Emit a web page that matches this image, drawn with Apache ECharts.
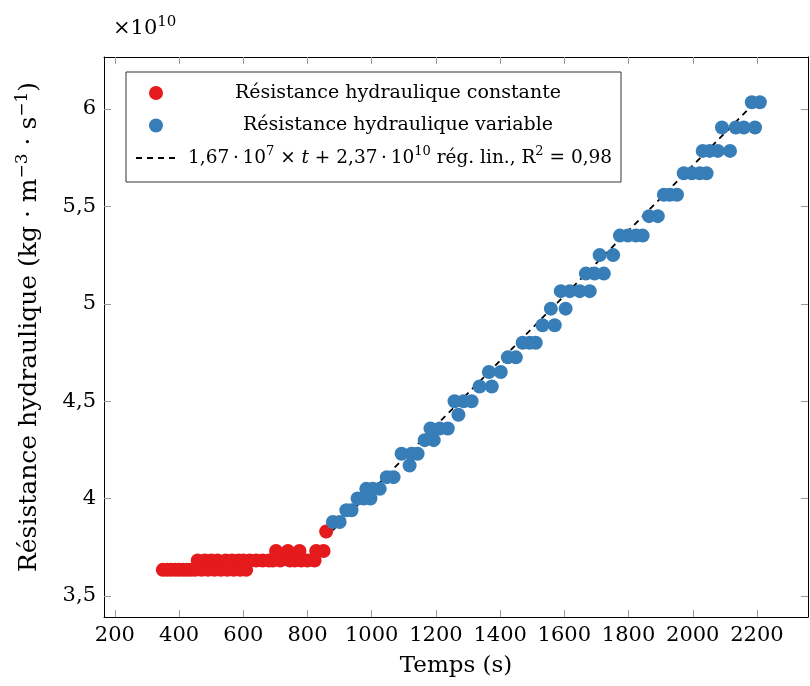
<!DOCTYPE html>
<html>
<head>
<meta charset="utf-8">
<script src="https://cdn.jsdelivr.net/npm/echarts@6/dist/echarts.min.js"></script>
<style>
  html, body { margin: 0; padding: 0; background: #fff; }
  #chart { width: 810px; height: 686px; }
</style>
</head>
<body>
<div id="chart"></div>
<script>
'use strict';

// temps (s) / résistance (x 10^10) -- partie constante
var constTime = [349, 362, 375, 388, 400, 413, 425, 437, 450, 458, 470, 480, 490, 500, 510, 520,
    530, 545, 550, 565, 570, 585, 590, 600, 609, 620, 640, 660, 680, 692, 702, 715, 739, 745,
    760, 775, 780, 800, 822, 827, 850, 858];
var constRes = [3.634, 3.634, 3.634, 3.634, 3.634, 3.634, 3.634, 3.634, 3.634, 3.682, 3.634, 3.682,
    3.634, 3.682, 3.634, 3.682, 3.634, 3.682, 3.634, 3.682, 3.634, 3.682, 3.634, 3.682, 3.634,
    3.682, 3.682, 3.682, 3.682, 3.682, 3.731, 3.682, 3.731, 3.682, 3.682, 3.731, 3.682, 3.682,
    3.682, 3.731, 3.731, 3.831];

// partie variable
var varTime = [879, 900, 921, 937, 956, 975, 983, 996, 1003, 1025, 1047, 1068, 1093, 1118, 1124,
    1143, 1165, 1183, 1193, 1212, 1237, 1258, 1270, 1286, 1311, 1336, 1365, 1374, 1402, 1424,
    1449, 1470, 1492, 1511, 1532, 1558, 1570, 1589, 1604, 1617, 1648, 1667, 1679, 1694, 1710,
    1723, 1752, 1773, 1798, 1823, 1844, 1864, 1891, 1910, 1929, 1951, 1972, 1997, 2022, 2031,
    2043, 2053, 2078, 2091, 2116, 2134, 2159, 2184, 2194, 2209];
var varRes = [3.88, 3.88, 3.94, 3.94, 4.00, 4.00, 4.05, 4.00, 4.05, 4.05, 4.11, 4.11, 4.23, 4.17,
    4.23, 4.23, 4.30, 4.36, 4.30, 4.36, 4.36, 4.50, 4.43, 4.50, 4.50, 4.575, 4.65, 4.575, 4.65,
    4.725, 4.725, 4.80, 4.80, 4.80, 4.89, 4.975, 4.89, 5.065, 4.975, 5.065, 5.065, 5.155, 5.065,
    5.155, 5.25, 5.155, 5.25, 5.35, 5.35, 5.35, 5.35, 5.45, 5.45, 5.56, 5.56, 5.56, 5.67, 5.67,
    5.67, 5.785, 5.67, 5.785, 5.785, 5.905, 5.785, 5.905, 5.905, 6.035, 5.905, 6.035];

// régression linéaire (extrémités lues)
var regTime = [855, 2205];
var regRes = [3.798, 6.052];

var xTicks = [200, 400, 600, 800, 1000, 1200, 1400, 1600, 1800, 2000, 2200];
var xTickLabels = ['200', '400', '600', '800', '1000', '1200', '1400', '1600', '1800', '2000', '2200'];
var yTicks = [3.5, 4, 4.5, 5, 5.5, 6];
var yTickLabels = ['3,5', '4', '4,5', '5', '5,5', '6'];
var xRange = [166, 2359];
var yRange = [3.392, 6.267];

var NAME_CONST = 'Résistance hydraulique constante';
var NAME_VAR = 'Résistance hydraulique variable';
var NAME_REG = 'régression';

var FONT = 'DejaVu Serif';
var TICK_COLOR = '#9a9a9a';

function pairs(xs, ys) {
    var arr = [];
    for (var i = 0; i < xs.length; i++) {
        arr.push([xs[i], ys[i]]);
    }
    return arr;
}

function axisBase(position, showLabel, ticks, labels) {
    var horiz = position === 'bottom' || position === 'top';
    return {
        type: 'value',
        position: position,
        min: horiz ? xRange[0] : yRange[0],
        max: horiz ? xRange[1] : yRange[1],
        axisLine: { show: true, onZero: false, lineStyle: { color: '#000', width: 1 } },
        axisTick: { show: true, inside: true, length: 7, customValues: ticks,
            lineStyle: { color: TICK_COLOR, width: 1 } },
        axisLabel: {
            show: showLabel,
            customValues: ticks,
            fontFamily: FONT,
            fontSize: 21,
            color: '#000',
            margin: 8,
            formatter: function (v) {
                for (var i = 0; i < ticks.length; i++) {
                    if (Math.abs(ticks[i] - v) < 1e-6) return labels[i];
                }
                return '';
            }
        },
        splitLine: { show: false }
    };
}

var chart = echarts.init(document.getElementById('chart'), null, { renderer: 'canvas' });

var xBottom = axisBase('bottom', true, xTicks, xTickLabels);
xBottom.name = 'Temps (s)';
xBottom.nameLocation = 'middle';
xBottom.nameGap = 38;
xBottom.nameTextStyle = { fontFamily: FONT, fontSize: 23, color: '#000' };

var yLeft = axisBase('left', true, yTicks, yTickLabels);
yLeft.name = 'Résistance hydraulique (kg · m{s|−3} · s{s|−1})';
yLeft.nameLocation = 'middle';
yLeft.nameRotate = 90;
yLeft.nameGap = 60;
yLeft.nameTextStyle = {
    fontFamily: FONT, fontSize: 25, color: '#000', lineHeight: 30,
    padding: [0, 0, 0, 20],
    rich: { s: { fontFamily: FONT, fontSize: 17, lineHeight: 16, verticalAlign: 'top', color: '#000' } }
};

// petite espace autour des points
var TH = '\u2009';

var option = {
    animation: false,
    backgroundColor: '#fff',
    grid: { left: 104, right: 2, top: 57, bottom: 69, containLabel: false },
    xAxis: [xBottom, axisBase('top', false, xTicks, xTickLabels)],
    yAxis: [yLeft, axisBase('right', false, yTicks, yTickLabels)],
    legend: {
        orient: 'vertical',
        left: 126,
        top: 72,
        padding: [8, 6, 11, 9],
        itemWidth: 40,
        itemHeight: 14,
        itemGap: 6.5,
        backgroundColor: '#fff',
        borderColor: '#333',
        borderWidth: 1,
        selectedMode: false,
        data: [
            { name: NAME_CONST, icon: 'circle' },
            { name: NAME_VAR, icon: 'circle' },
            { name: NAME_REG, itemStyle: { color: 'rgba(0,0,0,0)', borderWidth: 0 } }
        ],
        formatter: function (name) {
            if (name === NAME_REG) {
                return '{f|1,67' + TH + '·' + TH + '10}{s|7}{n| × }{i|t}{n| + 2,37' + TH + '·' + TH +
                    '10}{s|10}{n| rég. lin., R}{s|2}{n| = 0,98}';
            }
            return '{c|' + name + '}';
        },
        textStyle: {
            fontFamily: FONT, fontSize: 19, color: '#000', lineHeight: 26,
            rich: {
                c: { fontFamily: FONT, fontSize: 19, lineHeight: 26, width: 434, align: 'center', color: '#000' },
                f: { fontFamily: FONT, fontSize: 18.5, lineHeight: 26, padding: [0, 0, 0, 7], color: '#000' },
                n: { fontFamily: FONT, fontSize: 18.5, lineHeight: 26, color: '#000' },
                i: { fontFamily: FONT, fontSize: 18.5, lineHeight: 26, fontStyle: 'italic', color: '#000' },
                s: { fontFamily: FONT, fontSize: 13, lineHeight: 14, verticalAlign: 'top', color: '#000' }
            }
        }
    },
    graphic: [{
        type: 'text',
        left: 113,
        top: 15,
        style: {
            text: '{m|×10}{s|10}',
            rich: {
                m: { fontFamily: FONT, fontSize: 21, lineHeight: 28, fill: '#000' },
                s: { fontFamily: FONT, fontSize: 15, lineHeight: 15, verticalAlign: 'top', fill: '#000' }
            }
        }
    }],
    series: [{
        name: NAME_REG,
        type: 'line',
        z: 1,
        symbol: 'none',
        silent: true,
        lineStyle: { color: '#000', width: 1.8, type: [6, 5] },
        itemStyle: { color: '#000' },
        data: pairs(regTime, regRes)
    }, {
        name: NAME_CONST,
        type: 'scatter',
        z: 2,
        symbol: 'circle',
        symbolSize: 14,
        itemStyle: { color: '#e41a1c', opacity: 1 },
        emphasis: { disabled: true },
        data: pairs(constTime, constRes)
    }, {
        name: NAME_VAR,
        type: 'scatter',
        z: 3,
        symbol: 'circle',
        symbolSize: 14,
        itemStyle: { color: '#377eb8', opacity: 1 },
        emphasis: { disabled: true },
        data: pairs(varTime, varRes)
    }]
};

chart.setOption(option);
</script>
</body>
</html>
